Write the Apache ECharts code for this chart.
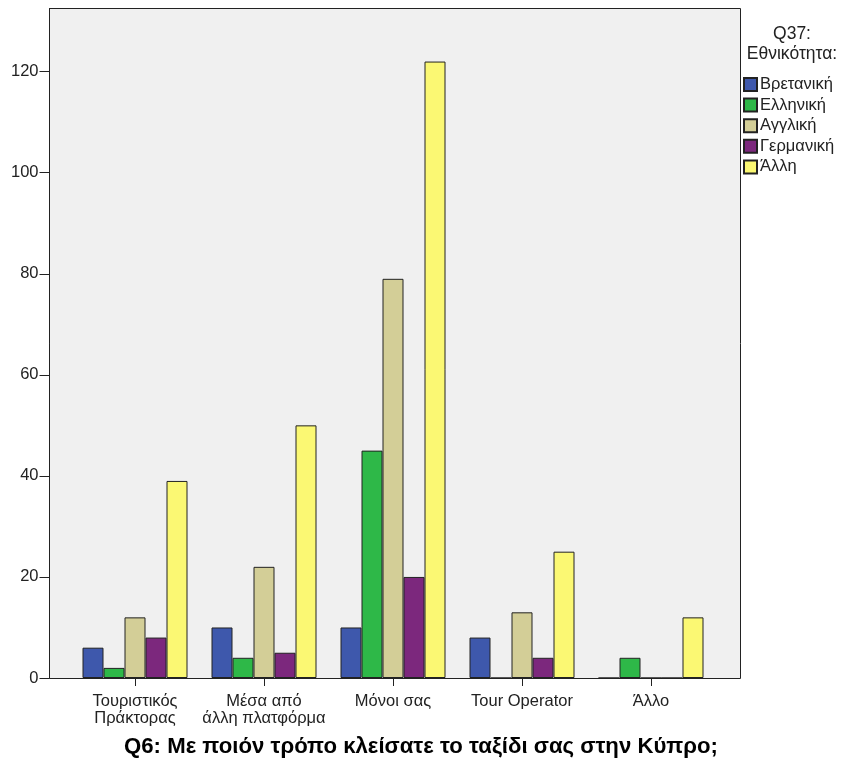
<!DOCTYPE html>
<html>
<head>
<meta charset="utf-8">
<script src="https://cdn.jsdelivr.net/npm/echarts@6/dist/echarts.min.js"></script>
<style>html,body{margin:0;padding:0;background:#fff}#c{width:844px;height:763px}</style>
</head>
<body>
<div id="c"></div>
<script>
var categories = ['Τουριστικός\nΠράκτορας', 'Μέσα από\nάλλη πλατφόρμα', 'Μόνοι σας', 'Tour Operator', 'Άλλο'];
var seriesNames = ['Βρετανική', 'Ελληνική', 'Αγγλική', 'Γερμανική', 'Άλλη'];
var britishVals = [6, 10, 10, 8, 0];
var greekVals = [2, 4, 45, 0, 4];
var englishVals = [12, 22, 79, 13, 0];
var germanVals = [8, 5, 20, 4, 0];
var otherVals = [39, 50, 122, 25, 12];
var yTicks = [0, 20, 40, 60, 80, 100, 120];
var colors = ['#3E58AC', '#2EB848', '#D3CE97', '#7C287D', '#FBF873'];

var allVals = [britishVals, greekVals, englishVals, germanVals, otherVals];
var chart = echarts.init(document.getElementById('c'));
var font = 'Liberation Sans, Arial, sans-serif';
chart.setOption({
  animation: false,
  textStyle: { fontFamily: font },
  title: [
    { text: 'Q6: Με ποιόν τρόπο κλείσατε το ταξίδι σας στην Κύπρο;', left: 416, top: 731, textAlign: 'center',
      textStyle: { fontSize: 22.2, fontWeight: 'bold', color: '#000', fontFamily: font } }
  ],
  legend: {
    orient: 'vertical', left: 741, top: 74, itemWidth: 13, itemHeight: 13, itemGap: 3.6,
    icon: 'rect', padding: 2,
    textStyle: { fontSize: 16.5, color: '#222', fontFamily: font, padding: [0, 0, 0, -2] },
    data: seriesNames
  },
  graphic: [{
    type: 'rect', z: -10, shape: { x: 49.5, y: 8.5, width: 691, height: 670 },
    style: { fill: '#F0F0F0', stroke: '#222', lineWidth: 1 }
  }, {
    type: 'text', style: {
      text: 'Q37:\nΕθνικότητα:', x: 792, y: 24, textAlign: 'center', textVerticalAlign: 'top',
      fontSize: 17.5, lineHeight: 20, fill: '#222', fontFamily: font
    }
  }],
  grid: { left: 70.5, right: 128.5, top: 8.5, bottom: 85, containLabel: false },
  xAxis: {
    type: 'category', data: categories,
    axisLine: { show: true, lineStyle: { color: '#222' } },
    axisTick: { show: true, alignWithLabel: true, length: 8, lineStyle: { color: '#222' } },
    axisLabel: { fontSize: 16.5, lineHeight: 17, color: '#222', margin: 15, interval: 0 }
  },
  yAxis: {
    type: 'value', min: 0, max: 132.5, interval: 20, offset: 21,
    axisLine: { show: true, lineStyle: { color: '#222' } },
    axisTick: { show: true, length: 10, lineStyle: { color: '#222' } },
    splitLine: { show: false },
    axisLabel: { fontSize: 16.5, color: '#222', margin: 11, showMaxLabel: false,
      formatter: function (v) { return yTicks.indexOf(v) >= 0 ? String(v) : ''; } }
  },
  series: seriesNames.map(function (n, i) {
    return {
      name: n, type: 'bar', data: allVals[i], barGap: '0%', barWidth: 21,
      itemStyle: { color: colors[i], borderColor: '#222', borderWidth: 1 }
    };
  })
});
</script>
</body>
</html>
